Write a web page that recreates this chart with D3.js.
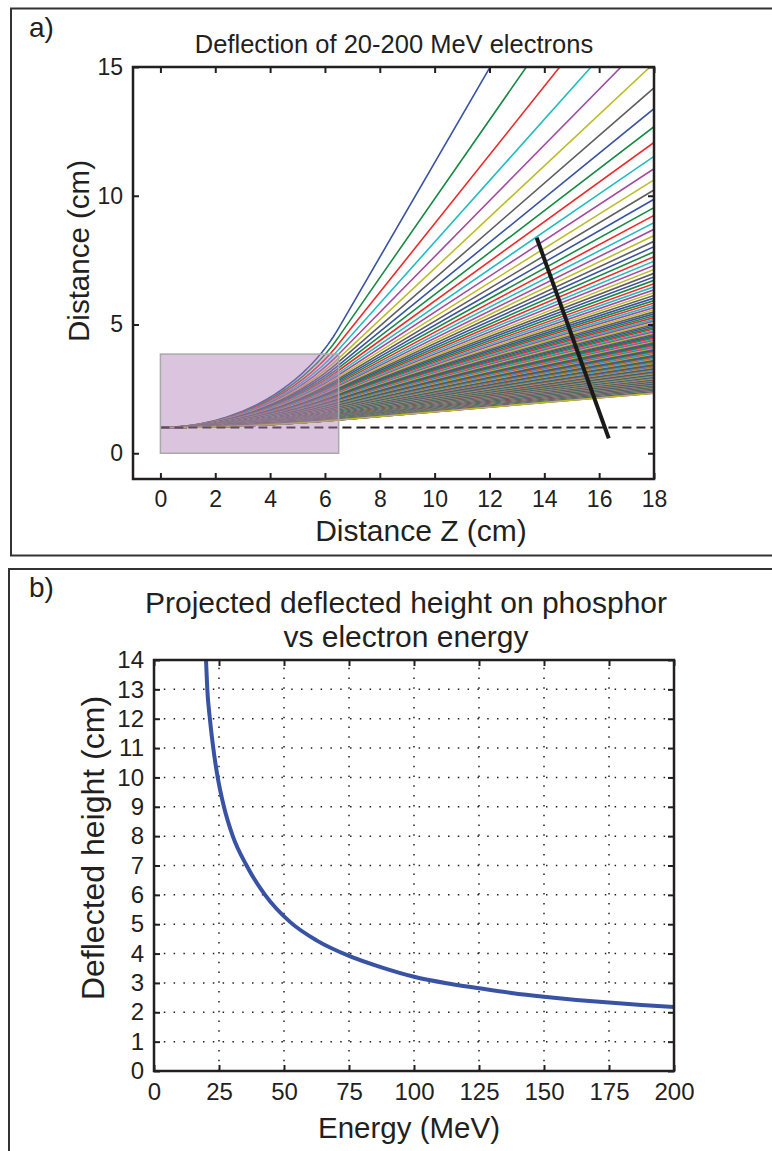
<!DOCTYPE html>
<html>
<head>
<meta charset="utf-8">
<script src="https://cdn.jsdelivr.net/npm/d3@7"></script>
<style>
body { margin: 0; background: #fff; }
text { font-family: "Liberation Sans", Arial, Helvetica, sans-serif; fill: #231f20; }
</style>
</head>
<body>
<script>
// ---- panel a: electron fan through the magnet ----
let energyMin = 20, energyMax = 200, energyStep = 1	// MeV, from the title
let lineColours = ['#3953a4', '#178a45', '#ee2a2a', '#22bcc0', '#a34b9e', '#bcbd2c', '#5f5f5f']
let magnetBox = [0, 0, 6.5, 3.85]	// z0, y0, z1, y1 (cm)
let magnetLength = 6.5	// cm of field along z
let bendPerMeV = 0.361	// bending radius in cm per MeV/c
let beamHeight = 1	// cm, dashed axis
let phosphorZ = [13.72, 16.35]
let phosphorY = [8.37, 0.58]
let xTicksA = [0, 2, 4, 6, 8, 10, 12, 14, 16, 18]
let yTicksA = [0, 5, 10, 15]

// ---- panel b: projected height on the phosphor ----
let energyB = [20, 20.5, 21.5, 22.8, 24.5, 26.9, 30.3, 35.6, 42.7, 52.3, 62.5, 75, 87.5, 100, 112.5, 125, 137.5, 150, 162.5, 175, 187.5, 200]
let heightB = [14.0, 13, 12, 11, 10, 9, 8, 7, 6, 5.08, 4.45, 3.92, 3.53, 3.21, 2.99, 2.82, 2.66, 2.53, 2.42, 2.33, 2.25, 2.18]
let xTicksB = [0, 25, 50, 75, 100, 125, 150, 175, 200]
let yTicksB = [0, 1, 2, 3, 4, 5, 6, 7, 8, 9, 10, 11, 12, 13, 14]

let ink = '#231f20'

let svg = d3.select('body').append('svg')
	.attr('width', 772).attr('height', 1151)

// panel frames
svg.append('rect').attr('x', 11).attr('y', 8.5).attr('width', 770).attr('height', 547)
	.attr('fill', 'none').attr('stroke', '#333').attr('stroke-width', 2)
svg.append('rect').attr('x', 9).attr('y', 569).attr('width', 770).attr('height', 600)
	.attr('fill', 'none').attr('stroke', '#333').attr('stroke-width', 2)

let boxAxes = function(g, x, y, xt, yt, pad) {
	let [r0, r1] = x.range(), [b0, b1] = y.range()
	let h = b0 - b1
	g.append('g').attr('transform', `translate(0,${b0})`)
		.call(d3.axisBottom(x).tickValues(xt).tickSize(-6).tickPadding(pad))
	g.append('g').attr('transform', `translate(0,${b1})`)
		.call(d3.axisTop(x).tickValues(xt).tickSize(-6).tickFormat(''))
	g.append('g').attr('transform', `translate(${r0},0)`)
		.call(d3.axisLeft(y).tickValues(yt).tickSize(-6).tickPadding(10))
	g.append('g').attr('transform', `translate(${r1},0)`)
		.call(d3.axisRight(y).tickValues(yt).tickSize(-6).tickFormat(''))
	g.selectAll('.domain').remove()
	g.selectAll('.tick line').attr('stroke', ink).attr('stroke-width', 2)
	g.selectAll('.tick text').attr('fill', ink).style('font-family', '"Liberation Sans", Arial, sans-serif')
	g.append('rect').attr('x', r0).attr('y', b1).attr('width', r1 - r0).attr('height', h)
		.attr('fill', 'none').attr('stroke', ink).attr('stroke-width', 2.5)
}

// ================= panel a =================
let xA = d3.scaleLinear().domain([-1, 18]).range([133, 654])
let yA = d3.scaleLinear().domain([-1, 15]).range([479, 67])

let track = function(E) {
	let p = Math.sqrt(E*E + 2*E*0.511)
	let R = bendPerMeV * p
	let pts = []
	for (let z = 0; z < magnetLength; z += 0.1) {
		pts.push([z, beamHeight + R - Math.sqrt(R*R - z*z)])
	}
	let s = Math.sqrt(R*R - magnetLength*magnetLength)
	let yExit = beamHeight + R - s
	pts.push([magnetLength, yExit])
	pts.push([18, yExit + (18 - magnetLength) * magnetLength / s])
	return pts
}

let gA = svg.append('g')
svg.append('clipPath').attr('id', 'clipA').append('rect')
	.attr('x', xA(-1)).attr('y', yA(15)).attr('width', xA(18) - xA(-1)).attr('height', yA(-1) - yA(15))

let energies = d3.range(energyMin, energyMax + energyStep / 2, energyStep)
let lineA = d3.line().x(d => xA(d[0])).y(d => yA(d[1]))
gA.append('g').attr('clip-path', 'url(#clipA)')
	.selectAll('path').data(energies).join('path')
	.attr('d', E => lineA(track(E)))
	.attr('fill', 'none')
	.attr('stroke', (E, i) => lineColours[i % lineColours.length])
	.attr('stroke-width', 1.6)

gA.append('line')
	.attr('x1', xA(0)).attr('x2', xA(18))
	.attr('y1', yA(beamHeight)).attr('y2', yA(beamHeight))
	.attr('stroke', ink).attr('stroke-width', 1.8).attr('stroke-dasharray', '9,5')

gA.append('rect')
	.attr('x', xA(magnetBox[0])).attr('y', yA(magnetBox[3]))
	.attr('width', xA(magnetBox[2]) - xA(magnetBox[0]))
	.attr('height', yA(magnetBox[1]) - yA(magnetBox[3]))
	.attr('fill', '#b07fb5').attr('fill-opacity', 0.45)
	.attr('stroke', '#a9a9a9').attr('stroke-width', 1.5)

gA.append('line')
	.attr('x1', xA(phosphorZ[0])).attr('x2', xA(phosphorZ[1]))
	.attr('y1', yA(phosphorY[0])).attr('y2', yA(phosphorY[1]))
	.attr('stroke', '#1a1a1a').attr('stroke-width', 4)

boxAxes(gA, xA, yA, xTicksA, yTicksA, 12)
gA.selectAll('.tick text').style('font-size', '23px')

gA.append('text').attr('x', 29).attr('y', 37).style('font-size', '28px').text('a)')
gA.append('text').attr('x', 394).attr('y', 53).attr('text-anchor', 'middle')
	.style('font-size', '25.5px').text('Deflection of 20-200 MeV electrons')
gA.append('text').attr('x', 421).attr('y', 541).attr('text-anchor', 'middle')
	.style('font-size', '30px').text('Distance Z (cm)')
gA.append('text').attr('transform', 'translate(89,251) rotate(-90)').attr('text-anchor', 'middle')
	.style('font-size', '29.5px').text('Distance (cm)')

// ================= panel b =================
let xB = d3.scaleLinear().domain([0, 200]).range([154, 674])
let yB = d3.scaleLinear().domain([0, 14]).range([1071, 660])
let gB = svg.append('g')

gB.append('g').selectAll('line').data(xTicksB.slice(1, -1)).join('line')
	.attr('x1', d => xB(d)).attr('x2', d => xB(d))
	.attr('y1', yB(0)).attr('y2', yB(14))
gB.append('g').selectAll('line').data(yTicksB.slice(1, -1)).join('line')
	.attr('x1', xB(0)).attr('x2', xB(200))
	.attr('y1', d => yB(d)).attr('y2', d => yB(d))
gB.selectAll('line').attr('stroke', ink).attr('stroke-width', 1.5).attr('stroke-dasharray', '1.5,8.3')

svg.append('clipPath').attr('id', 'clipB').append('rect')
	.attr('x', xB(0)).attr('y', yB(14)).attr('width', xB(200) - xB(0)).attr('height', yB(0) - yB(14))

gB.append('path')
	.datum(energyB.map((e, i) => [e, heightB[i]]))
	.attr('clip-path', 'url(#clipB)')
	.attr('d', d3.line().x(d => xB(d[0])).y(d => yB(d[1])).curve(d3.curveMonotoneX))
	.attr('fill', 'none').attr('stroke', '#3953a4').attr('stroke-width', 4)

boxAxes(gB, xB, yB, xTicksB, yTicksB, 12)
gB.selectAll('.tick text').style('font-size', '24px')

gB.append('text').attr('x', 29).attr('y', 597).style('font-size', '28px').text('b)')
gB.append('text').attr('x', 406).attr('y', 613).attr('text-anchor', 'middle')
	.style('font-size', '30px').text('Projected deflected height on phosphor')
gB.append('text').attr('x', 406).attr('y', 647).attr('text-anchor', 'middle')
	.style('font-size', '30px').text('vs electron energy')
gB.append('text').attr('x', 409).attr('y', 1138).attr('text-anchor', 'middle')
	.style('font-size', '29.5px').text('Energy (MeV)')
gB.append('text').attr('transform', 'translate(104,848) rotate(-90)').attr('text-anchor', 'middle')
	.style('font-size', '32px').text('Deflected height (cm)')
</script>
</body>
</html>
